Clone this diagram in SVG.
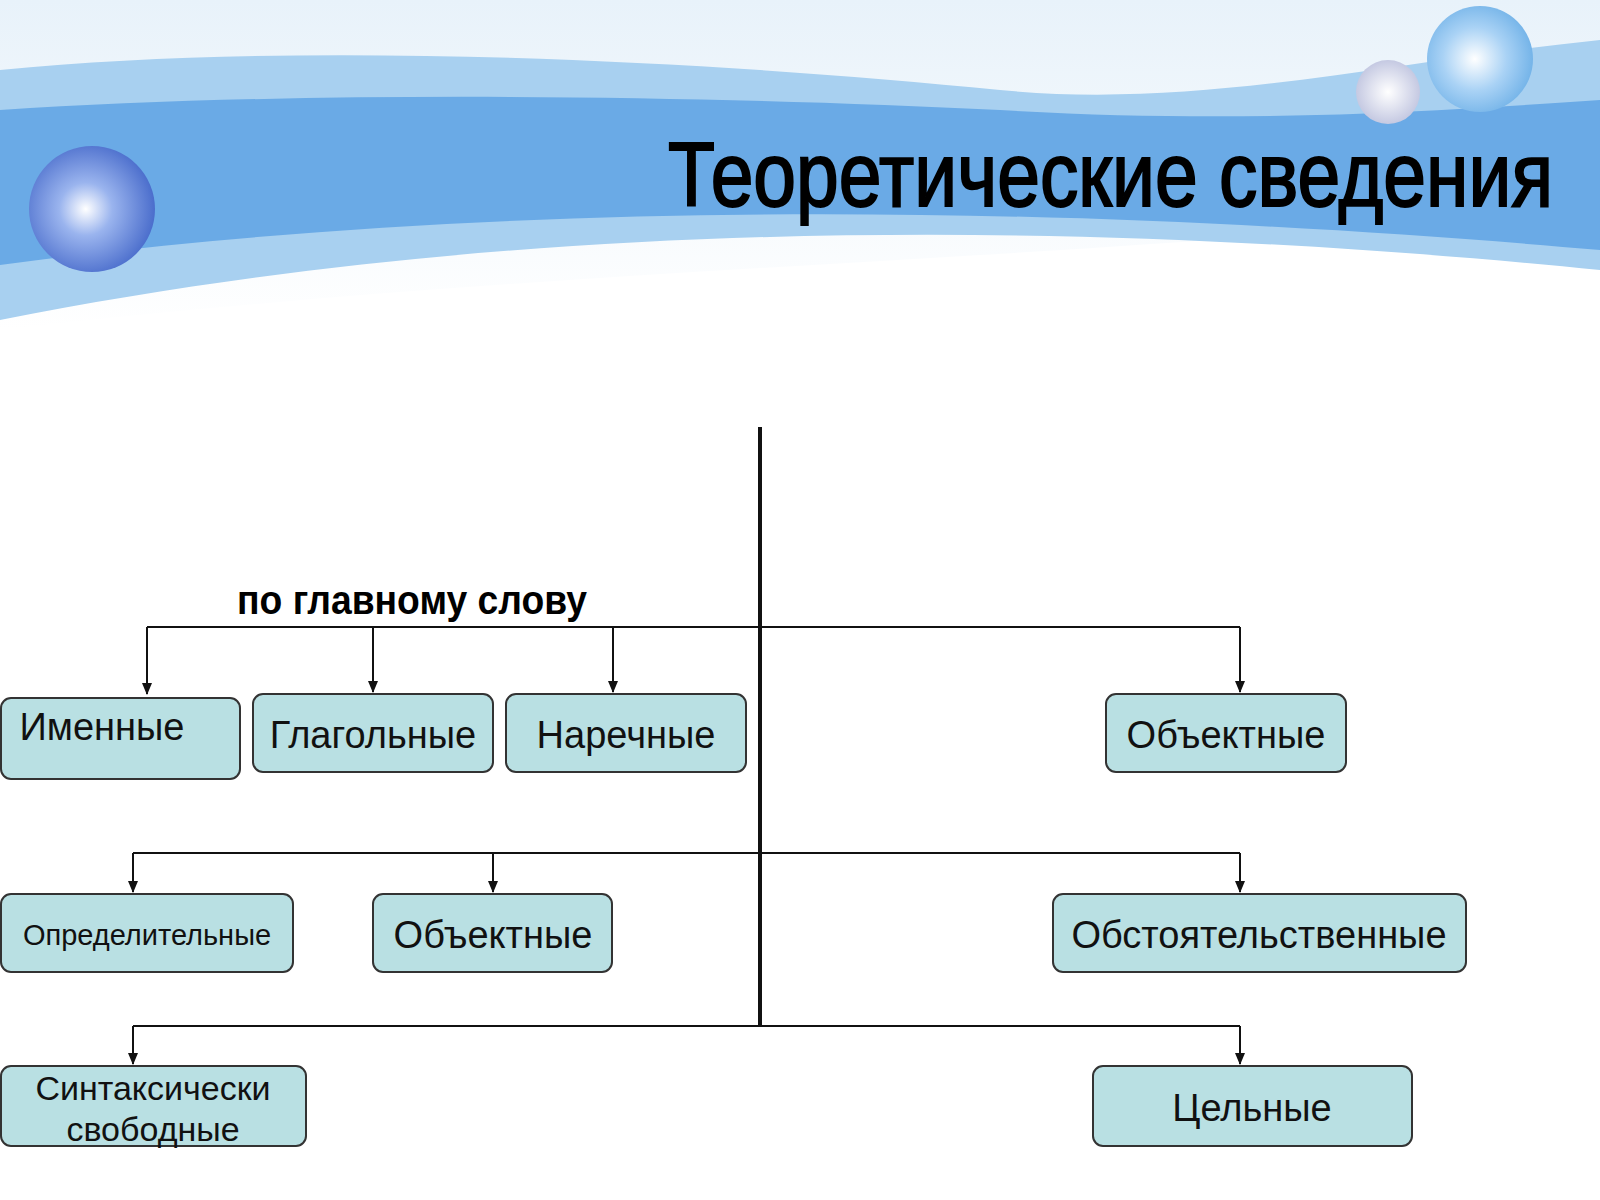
<svg xmlns="http://www.w3.org/2000/svg" width="1600" height="1200" viewBox="0 0 1600 1200">
<defs>
<style>
.box{fill:#b9e0e3;stroke:#333;stroke-width:2}
.t{font-family:"Liberation Sans",Arial,sans-serif;fill:#111;text-anchor:middle}
.ln{stroke:#111;stroke-width:2;fill:none}
</style>
<marker id="ar" markerWidth="12" markerHeight="10" refX="11" refY="5" orient="auto" markerUnits="userSpaceOnUse" viewBox="0 0 12 10"><path d="M0,0 L12,5 L0,10 Z" fill="#111"/></marker>
<radialGradient id="b1" cx="0.45" cy="0.5" r="0.6"><stop offset="0" stop-color="#fff"/><stop offset="0.35" stop-color="#9ab4ee"/><stop offset="1" stop-color="#3f63c7"/></radialGradient>
<radialGradient id="b2" cx="0.45" cy="0.5" r="0.6"><stop offset="0" stop-color="#fff"/><stop offset="0.5" stop-color="#a9d2f5"/><stop offset="1" stop-color="#6aaee6"/></radialGradient>
<radialGradient id="b3" cx="0.5" cy="0.5" r="0.6"><stop offset="0" stop-color="#fff"/><stop offset="1" stop-color="#b9bedc"/></radialGradient>
<linearGradient id="sky" x1="0" y1="0" x2="0" y2="1"><stop offset="0" stop-color="#e8f2fa"/><stop offset="1" stop-color="#fff"/></linearGradient>
</defs>
<rect width="1600" height="1200" fill="#fff"/>
<g id="header">
<path d="M0,0 H1600 V200 C1200,260 600,260 0,330 Z" fill="url(#sky)"/>
<path d="M0,70 C300,40 700,60 1000,90 C1200,110 1400,60 1600,40 V270 C1200,230 600,200 0,320 Z" fill="#a8d0f0"/>
<path d="M0,110 C300,90 700,95 1000,110 C1250,125 1450,110 1600,100 V250 C1200,215 600,185 0,265 Z" fill="#6aaae6"/>
<circle cx="92" cy="209" r="63" fill="url(#b1)"/>
<circle cx="1480" cy="59" r="53" fill="url(#b2)"/>
<circle cx="1388" cy="92" r="32" fill="url(#b3)"/>
<text x="668" y="206" font-family="'Liberation Sans',Arial,sans-serif" font-size="90" stroke="#000" stroke-width="2" textLength="885" lengthAdjust="spacingAndGlyphs" fill="#000">Теоретические сведения</text>
</g>
<g id="connectors">
<line x1="760" y1="427" x2="760" y2="1026" stroke="#111" stroke-width="4"/>
<polyline class="ln" points="147,627 1240,627"/>
<line class="ln" x1="147" y1="627" x2="147" y2="694" marker-end="url(#ar)"/>
<line class="ln" x1="373" y1="627" x2="373" y2="692" marker-end="url(#ar)"/>
<line class="ln" x1="613" y1="627" x2="613" y2="692" marker-end="url(#ar)"/>
<line class="ln" x1="1240" y1="627" x2="1240" y2="692" marker-end="url(#ar)"/>
<polyline class="ln" points="133,853 1240,853"/>
<line class="ln" x1="133" y1="853" x2="133" y2="892" marker-end="url(#ar)"/>
<line class="ln" x1="493" y1="853" x2="493" y2="892" marker-end="url(#ar)"/>
<line class="ln" x1="1240" y1="853" x2="1240" y2="892" marker-end="url(#ar)"/>
<polyline class="ln" points="133,1026 1240,1026"/>
<line class="ln" x1="133" y1="1026" x2="133" y2="1064" marker-end="url(#ar)"/>
<line class="ln" x1="1240" y1="1026" x2="1240" y2="1064" marker-end="url(#ar)"/>
</g>
<g id="label"><text x="237" y="614" font-family="'Liberation Sans',Arial,sans-serif" font-weight="bold" font-size="40" textLength="350" lengthAdjust="spacingAndGlyphs" fill="#000">по главному слову</text></g>
<g id="n1"><rect class="box" x="1" y="698" width="239" height="81" rx="10"/><text class="t" x="102" y="740" font-size="38">Именные</text></g>
<g id="n2"><rect class="box" x="253" y="694" width="240" height="78" rx="10"/><text class="t" x="373" y="748" font-size="38">Глагольные</text></g>
<g id="n3"><rect class="box" x="506" y="694" width="240" height="78" rx="10"/><text class="t" x="626" y="748" font-size="38">Наречные</text></g>
<g id="n4"><rect class="box" x="1106" y="694" width="240" height="78" rx="10"/><text class="t" x="1226" y="748" font-size="38">Объектные</text></g>
<g id="n5"><rect class="box" x="1" y="894" width="292" height="78" rx="10"/><text class="t" x="147" y="945" font-size="29">Определительные</text></g>
<g id="n6"><rect class="box" x="373" y="894" width="239" height="78" rx="10"/><text class="t" x="493" y="948" font-size="38">Объектные</text></g>
<g id="n7"><rect class="box" x="1053" y="894" width="413" height="78" rx="10"/><text class="t" x="1259" y="948" font-size="38">Обстоятельственные</text></g>
<g id="n8"><rect class="box" x="1" y="1066" width="305" height="80" rx="10"/><text class="t" x="153" y="1100" font-size="34">Синтаксически</text><text class="t" x="153" y="1141" font-size="34">свободные</text></g>
<g id="n9"><rect class="box" x="1093" y="1066" width="319" height="80" rx="10"/><text class="t" x="1252" y="1121" font-size="38">Цельные</text></g>
</svg>
